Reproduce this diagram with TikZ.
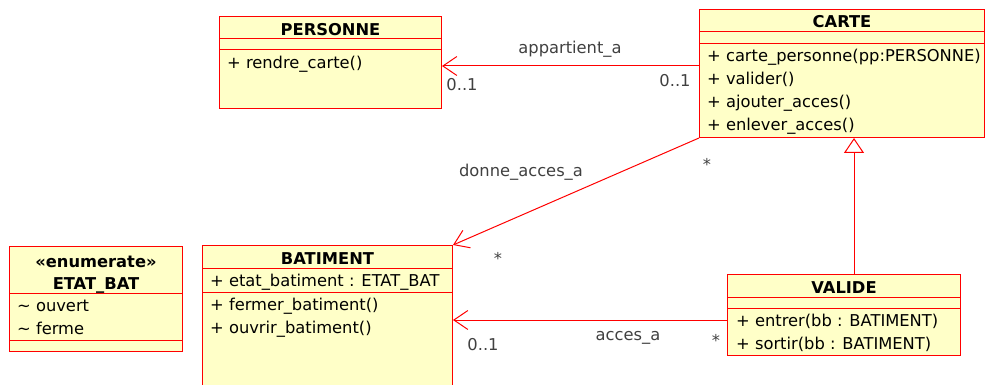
\documentclass[tikz,border=0pt]{standalone}
\usepackage{fontspec}
\setmainfont{DejaVu Sans}
\usepackage{xcolor}
\usepackage{tikz}
\usetikzlibrary{arrows.meta,positioning,calc}
\definecolor{UmlRed}{HTML}{FF0000}
\definecolor{UmlFill}{HTML}{FFFFC8}
\definecolor{UmlLabel}{HTML}{404040}
\newcommand{\classbox}[4]{%
  \node[draw=UmlRed,fill=UmlFill,line width=1pt,inner sep=0pt,anchor=north west,
        minimum width=#3,minimum height=#4] (#1) at (#2) {};%
}
\newcommand{\classrule}[2]{%
  \draw[UmlRed,line width=1pt] ([yshift=-#2]#1.north west) -- ([yshift=-#2]#1.north east);%
}

\begin{document}
\begin{tikzpicture}[x=1pt,y=-1pt,>={Straight Barb[length=14pt,width=19pt]},
    member/.style={anchor=base west,inner sep=0pt,font=\fontsize{16.3}{20}\selectfont},
    classname/.style={anchor=base,inner sep=0pt,font=\bfseries\fontsize{16.3}{20}\selectfont},
    linklabel/.style={anchor=base,inner sep=0pt,text=UmlLabel,font=\fontsize{16.3}{20}\selectfont}]
  \useasboundingbox (0,0) rectangle (985,385);
  \classbox{personne}{219,16}{222pt}{92pt}
  \classbox{carte}{699,9}{285pt}{128pt}
  \classbox{etatbat}{9,246}{173pt}{105pt}
  \classbox{batiment}{202,245}{250pt}{150pt}
  \classbox{valide}{727,274}{233pt}{81pt}
  \classrule{personne}{23pt}
  \classrule{personne}{34pt}
  \classrule{carte}{23pt}
  \classrule{carte}{35pt}
  \classrule{etatbat}{47pt}
  \classrule{etatbat}{94pt}
  \classrule{batiment}{23pt}
  \classrule{batiment}{47pt}
  \classrule{valide}{23pt}
  \classrule{valide}{34pt}
  \node[classname] (personne-name) at ([yshift=-20pt]personne.north) {PERSONNE};
  \node[member] (personne-op1) at ([xshift=8pt,yshift=-53pt]personne.north west) {+ rendre\_carte()};
  \node[classname] (carte-name) at ([yshift=-19pt]carte.north) {CARTE};
  \node[member] (carte-op1) at ([xshift=8pt,yshift=-53pt]carte.north west) {+ carte\_personne(pp:PERSONNE)};
  \node[member] (carte-op2) at ([xshift=8pt,yshift=-76pt]carte.north west) {+ valider()};
  \node[member] (carte-op3) at ([xshift=8pt,yshift=-99pt]carte.north west) {+ ajouter\_acces()};
  \node[member] (carte-op4) at ([xshift=8pt,yshift=-122pt]carte.north west) {+ enlever\_acces()};
  \node[classname] (etatbat-stereo) at ([yshift=-21pt]etatbat.north) {«enumerate»};
  \node[classname] (etatbat-name) at ([yshift=-43pt]etatbat.north) {ETAT\_BAT};
  \node[member] (etatbat-lit1) at ([xshift=8pt,yshift=-65.5pt]etatbat.north west) {\textasciitilde{} ouvert};
  \node[member] (etatbat-lit2) at ([xshift=8pt,yshift=-88pt]etatbat.north west) {\textasciitilde{} ferme};
  \node[classname] (batiment-name) at ([yshift=-19pt]batiment.north) {BATIMENT};
  \node[member] (batiment-att1) at ([xshift=8pt,yshift=-41pt]batiment.north west) {+ etat\_batiment : ETAT\_BAT};
  \node[member] (batiment-op1) at ([xshift=8pt,yshift=-65pt]batiment.north west) {+ fermer\_batiment()};
  \node[member] (batiment-op2) at ([xshift=8pt,yshift=-88pt]batiment.north west) {+ ouvrir\_batiment()};
  \node[classname] (valide-name) at ([yshift=-19pt]valide.north) {VALIDE};
  \node[member] (valide-op1) at ([xshift=9pt,yshift=-52pt]valide.north west) {+ entrer(bb : BATIMENT)};
  \node[member] (valide-op2) at ([xshift=9pt,yshift=-75pt]valide.north west) {+ sortir(bb : BATIMENT)};
  \coordinate (appartient-end) at ([yshift=-50pt]personne.north east);
  \coordinate (gen-start) at ([xshift=10pt]valide.north);
  \coordinate (acces-start) at ([yshift=-46pt]valide.north west);
  \draw[->,UmlRed,line width=1pt] (appartient-end -| carte.west) -- (appartient-end);
  \draw[->,UmlRed,line width=1pt] (carte.south west) -- (batiment.north east);
  \draw[-{Triangle[open,length=15pt,width=20pt,fill=white]},UmlRed,line width=1pt] (gen-start) -- (gen-start |- carte.south);
  \draw[->,UmlRed,line width=1pt] (acces-start) -- (acces-start -| batiment.east);
  \node[linklabel] (appartient-label) at (570,54) {appartient\_a};
  \node[linklabel] (appartient-mult1) at (462,91) {0..1};
  \node[linklabel] (appartient-mult2) at (675,87) {0..1};
  \node[linklabel] (donne-label) at (521,176) {donne\_acces\_a};
  \node[linklabel] (donne-mult1) at (707,170) {*};
  \node[linklabel] (donne-mult2) at (498,264) {*};
  \node[linklabel] (acces-label) at (628,340) {acces\_a};
  \node[linklabel] (acces-mult1) at (483,350) {0..1};
  \node[linklabel] (acces-mult2) at (716,346) {*};
\end{tikzpicture}
\end{document}
